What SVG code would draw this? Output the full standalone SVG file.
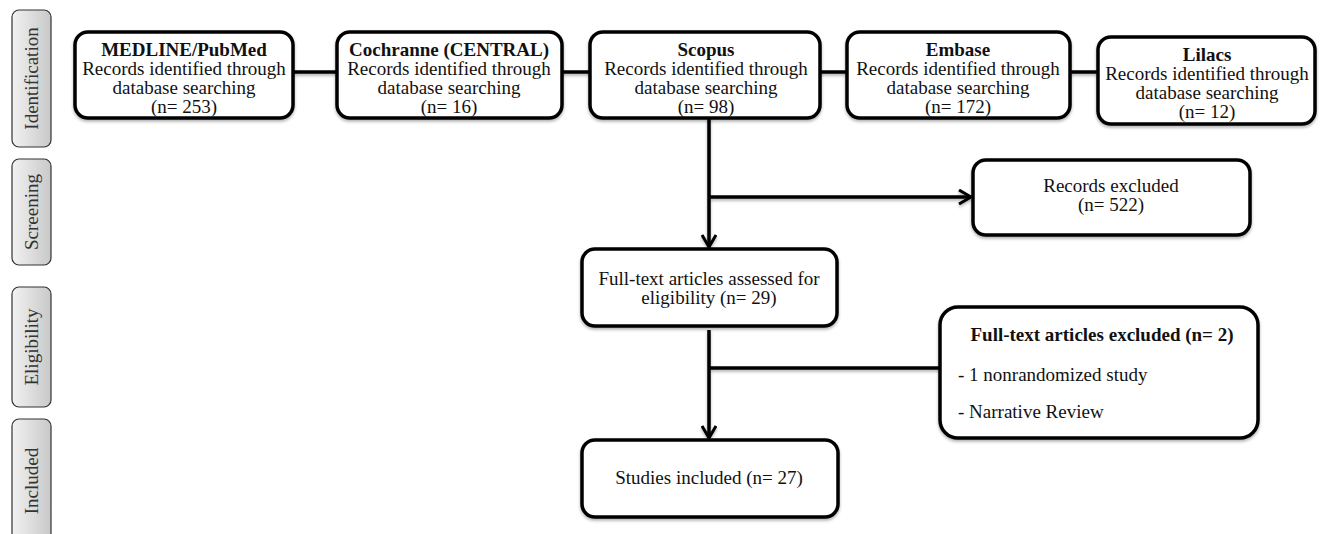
<svg xmlns="http://www.w3.org/2000/svg" width="1322" height="534" viewBox="0 0 1322 534">
<defs>
<style>
.box{fill:#fff;stroke:#000;stroke-width:3.5;filter:url(#sh)}
.side{fill:url(#g);stroke:#333;stroke-width:1.2}
.t{font-family:"Liberation Serif",serif;font-size:19px;fill:#111;text-anchor:middle}
.b{font-weight:bold}
.l{text-anchor:start}
.st{font-family:"Liberation Serif",serif;font-size:19px;fill:#333;text-anchor:middle}
.c{fill:none;stroke:#000;stroke-width:3.5}
</style>
<linearGradient id="g" x1="0" y1="0" x2="1" y2="0">
<stop offset="0" stop-color="#f2f2f2"/>
<stop offset="1" stop-color="#c8c8c8"/>
</linearGradient>
<filter id="sh" x="-10%" y="-10%" width="120%" height="130%">
<feDropShadow dx="0" dy="2" stdDeviation="1.5" flood-color="#000" flood-opacity="0.3"/>
</filter>
<filter id="shc" filterUnits="userSpaceOnUse" x="0" y="0" width="1322" height="534">
<feDropShadow dx="0" dy="2" stdDeviation="1.5" flood-color="#000" flood-opacity="0.3"/>
</filter>
<marker id="ah" viewBox="0 0 16 16" refX="14" refY="8" markerWidth="16" markerHeight="16" markerUnits="userSpaceOnUse" orient="auto">
<path d="M2,1 L14,8 L2,15" fill="none" stroke="#000" stroke-width="3"/>
</marker>
</defs>
<g id="stages">
<g id="s-identification"><rect class="side" x="12" y="10" width="39" height="137" rx="7"/><text class="st" transform="translate(38,78.5) rotate(-90)">Identification</text></g>
<g id="s-screening"><rect class="side" x="12" y="159" width="39" height="106" rx="7"/><text class="st" transform="translate(38,212) rotate(-90)">Screening</text></g>
<g id="s-eligibility"><rect class="side" x="12" y="287" width="39" height="120" rx="7"/><text class="st" transform="translate(38,347) rotate(-90)">Eligibility</text></g>
<g id="s-included"><rect class="side" x="12" y="419" width="39" height="125" rx="7"/><text class="st" transform="translate(38,481) rotate(-90)">Included</text></g>
</g>
<g id="connectors" filter="url(#shc)">
<line class="c" x1="293" y1="72" x2="337" y2="72"/>
<line class="c" x1="562" y1="72" x2="590" y2="72"/>
<line class="c" x1="820" y1="72" x2="847" y2="72"/>
<line class="c" x1="1070" y1="72" x2="1098" y2="72"/>
<line class="c" x1="709" y1="118" x2="709" y2="247" marker-end="url(#ah)"/>
<line class="c" x1="709" y1="197" x2="971" y2="197" marker-end="url(#ah)"/>
<line class="c" x1="709" y1="330" x2="709" y2="438" marker-end="url(#ah)"/>
<line class="c" x1="709" y1="368" x2="940" y2="368"/>
</g>
<g id="n-medline"><rect class="box" x="75" y="32" width="218" height="86" rx="13"/>
<text class="t b" x="184" y="56">MEDLINE/PubMed</text><text class="t" x="184" y="75">Records identified through</text><text class="t" x="184" y="94">database searching</text><text class="t" x="184" y="113">(n= 253)</text></g>
<g id="n-cochrane"><rect class="box" x="337" y="32" width="225" height="86" rx="13"/>
<text class="t b" x="449" y="56">Cochranne (CENTRAL)</text><text class="t" x="449" y="75">Records identified through</text><text class="t" x="449" y="94">database searching</text><text class="t" x="449" y="113">(n= 16)</text></g>
<g id="n-scopus"><rect class="box" x="590" y="32" width="230" height="86" rx="13"/>
<text class="t b" x="706" y="56">Scopus</text><text class="t" x="706" y="75">Records identified through</text><text class="t" x="706" y="94">database searching</text><text class="t" x="706" y="113">(n= 98)</text></g>
<g id="n-embase"><rect class="box" x="847" y="32" width="223" height="86" rx="13"/>
<text class="t b" x="958" y="56">Embase</text><text class="t" x="958" y="75">Records identified through</text><text class="t" x="958" y="94">database searching</text><text class="t" x="958" y="113">(n= 172)</text></g>
<g id="n-lilacs"><rect class="box" x="1098" y="37" width="217" height="87" rx="13"/>
<text class="t b" x="1207" y="61">Lilacs</text><text class="t" x="1207" y="80">Records identified through</text><text class="t" x="1207" y="99">database searching</text><text class="t" x="1207" y="118">(n= 12)</text></g>
<g id="n-excluded"><rect class="box" x="973" y="160" width="277" height="75" rx="13"/>
<text class="t" x="1111" y="192">Records excluded</text><text class="t" x="1111" y="211">(n= 522)</text></g>
<g id="n-fulltext"><rect class="box" x="582" y="249" width="255" height="77" rx="13"/>
<text class="t" x="709" y="285">Full-text articles assessed for</text><text class="t" x="709" y="304">eligibility (n= 29)</text></g>
<g id="n-ftexcluded"><rect class="box" x="940" y="307" width="318" height="131" rx="18"/>
<text class="t b" x="1102" y="341">Full-text articles excluded (n= 2)</text><text class="t l" x="958" y="381">- 1 nonrandomized study</text><text class="t l" x="958" y="418">- Narrative Review</text></g>
<g id="n-included"><rect class="box" x="582" y="440" width="256" height="77" rx="13"/>
<text class="t" x="709" y="484">Studies included (n= 27)</text></g>
</svg>
